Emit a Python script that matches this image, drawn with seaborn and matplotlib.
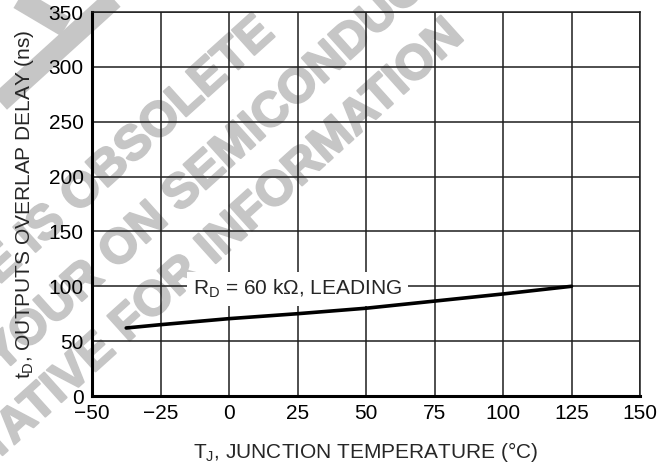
import matplotlib
matplotlib.use('Agg')
import matplotlib.pyplot as plt
import matplotlib.patheffects as pe
from matplotlib.lines import Line2D
from matplotlib.transforms import IdentityTransform
import seaborn as sns
import pandas as pd

# junction temperature (C) vs outputs overlap delay (ns), RD = 60 kOhm, leading
temp = [-37.5, -25, 0, 25, 50, 75, 100, 125]
delay = [62, 65, 70.5, 75, 80, 86.5, 93, 100]

x_ticks = [-50, -25, 0, 25, 50, 75, 100, 125, 150]
y_ticks = [0, 50, 100, 150, 200, 250, 300, 350]

df = pd.DataFrame({'temp': temp, 'delay': delay})

sns.set_style('white')
plt.rcParams['font.family'] = ['Liberation Sans', 'DejaVu Sans']
plt.rcParams['mathtext.default'] = 'regular'

W, H = 659, 466
fig = plt.figure(figsize=(W / 100, H / 100), dpi=100)
ax = fig.add_axes([92 / W, 70 / H, 548 / W, 384 / H])
ax.set_facecolor('none')

# grey "obsolete" watermark behind the grid (pixel coords, y from top)
wm = '#c6c6c6'
ang = 42
px = IdentityTransform()

def wm_text(x, y, left, right):
    kw = dict(transform=px, rotation=ang, rotation_mode='anchor', va='center',
              fontsize=35, fontweight='bold', color=wm, zorder=-5,
              path_effects=[pe.withStroke(linewidth=1.5, foreground=wm)])
    fig.text(x, H - y, left, ha='right', **kw)
    fig.text(x, H - y, right, ha='left', **kw)

wm_text(69, 205, 'THIS DEVICE IS ', 'OBSOLETE')
wm_text(171, 204, 'CONTACT YOUR ON ', 'SEMICONDUCTOR')
wm_text(205, 256, 'REPRESENTATIVE FOR ', 'INFORMATION')
fig.add_artist(Line2D([0, 118], [H - 102, H + 5], transform=px, color=wm,
                      lw=15, solid_capstyle='butt', zorder=-5))
fig.add_artist(Line2D([12, 66], [H + 5, H - 27], transform=px, color=wm,
                      lw=15, solid_capstyle='butt', zorder=-5))

sns.lineplot(data=df, x='temp', y='delay', ax=ax, color='black', lw=2.6,
             zorder=4)

ax.text(25, 97.5, r'R$_D$ = 60 kΩ, LEADING', ha='center', va='center',
        fontsize=15, zorder=3,
        bbox=dict(boxstyle='square,pad=0.3', fc='white', ec='none'))

ax.set_xlim(-50, 150)
ax.set_ylim(0, 350)
ax.set_xticks(x_ticks)
ax.set_yticks(y_ticks)
ax.grid(True, color='#1e1e1e', lw=1.1)
ax.set_axisbelow(True)
ax.tick_params(length=0, labelsize=15, pad=6, colors='black')

for side in ['top', 'right']:
    ax.spines[side].set_linewidth(1.1)
    ax.spines[side].set_color('#1e1e1e')
for side in ['left', 'bottom']:
    ax.spines[side].set_linewidth(2.2)
    ax.spines[side].set_color('black')

ax.set_xlabel('T$_J$, JUNCTION TEMPERATURE (°C)', fontsize=15, labelpad=12)
ax.set_ylabel('t$_D$, OUTPUTS OVERLAP DELAY (ns)', fontsize=15, labelpad=9)

fig.savefig('out.png', dpi=100)
